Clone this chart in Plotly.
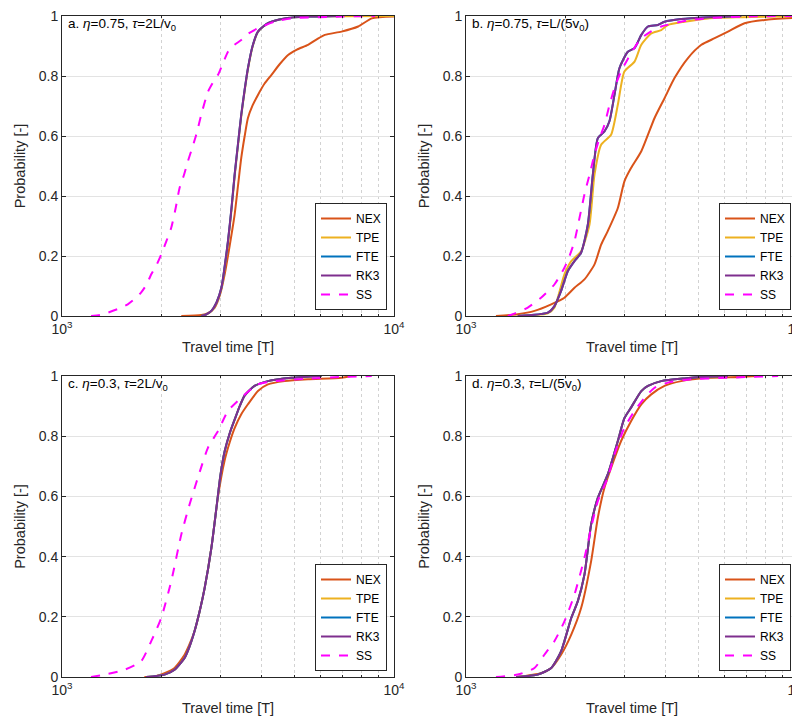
import plotly.graph_objects as go

# ---------------- data ----------------
# Panel a: eta=0.75, tau=2L/v0
SS_a_x = [1223, 1300, 1374, 1478, 1578, 1660, 1730, 1800, 1857, 1930, 1990, 2060, 2133, 2200, 2260, 2330, 2395, 2470, 2537, 2640, 2753, 2850, 2951, 3060, 3162, 3300, 3467, 3650, 3892, 4375, 4911, 6950, 8770]
SS_a_y = [0, 0.003, 0.011, 0.024, 0.039, 0.058, 0.078, 0.106, 0.139, 0.172, 0.205, 0.248, 0.294, 0.36, 0.427, 0.47, 0.516, 0.562, 0.604, 0.68, 0.748, 0.779, 0.804, 0.845, 0.881, 0.903, 0.92, 0.942, 0.959, 0.981, 0.992, 0.998, 1.0]
NEX_a_x = [2287, 2630, 2760, 2884, 2990, 3090, 3200, 3311, 3390, 3467, 3550, 3631, 3750, 3892, 4076, 4276, 4530, 4797, 5100, 5508, 5850, 6190, 6950, 7800, 8570, 10000]
NEX_a_y = [0, 0.003, 0.01, 0.028, 0.07, 0.139, 0.235, 0.338, 0.435, 0.527, 0.6, 0.66, 0.702, 0.737, 0.775, 0.804, 0.84, 0.87, 0.888, 0.904, 0.922, 0.937, 0.948, 0.965, 0.992, 0.998]
RK3_a_x = [2630, 2730, 2818, 2920, 3020, 3090, 3162, 3240, 3311, 3390, 3467, 3550, 3631, 3750, 3892, 4170, 4688, 5508, 6950]
RK3_a_y = [0, 0.006, 0.017, 0.045, 0.094, 0.165, 0.25, 0.36, 0.471, 0.575, 0.671, 0.755, 0.826, 0.9, 0.948, 0.976, 0.992, 0.998, 1.0]
TPE_a_x = [2630, 2735, 2825, 2925, 3025, 3095, 3167, 3245, 3316, 3395, 3472, 3555, 3636, 3755, 3897, 4175, 4693, 5513, 6955, 10000]
TPE_a_y = [0, 0.006, 0.017, 0.045, 0.094, 0.165, 0.25, 0.36, 0.471, 0.575, 0.671, 0.755, 0.826, 0.9, 0.948, 0.976, 0.992, 0.998, 0.999, 1.0]
FTE_a_x = RK3_a_x
FTE_a_y = RK3_a_y

# Panel b: eta=0.75, tau=L/(5v0)
SS_b_x = [1336, 1399, 1535, 1683, 1846, 1979, 2050, 2122, 2200, 2274, 2360, 2438, 2520, 2612, 2700, 2800, 2930, 3072, 3220, 3373, 3600, 3873, 4767, 6745, 10000]
SS_b_y = [0, 0.008, 0.028, 0.061, 0.105, 0.161, 0.2, 0.249, 0.33, 0.405, 0.475, 0.538, 0.59, 0.637, 0.7, 0.759, 0.815, 0.857, 0.895, 0.926, 0.948, 0.965, 0.987, 0.998, 1.0]
NEX_b_x = [1231, 1432, 1608, 1806, 1979, 2122, 2274, 2438, 2553, 2673, 2866, 3000, 3141, 3373, 3698, 3963, 4246, 4656, 5117, 5610, 6152, 6902, 7943, 10000]
NEX_b_y = [0, 0.006, 0.017, 0.039, 0.061, 0.094, 0.122, 0.172, 0.238, 0.283, 0.36, 0.449, 0.493, 0.549, 0.66, 0.726, 0.793, 0.859, 0.904, 0.926, 0.948, 0.976, 0.987, 0.994]
RK3_b_x = [1432, 1763, 1846, 1933, 2027, 2122, 2222, 2328, 2410, 2495, 2612, 2704, 2800, 2898, 3072, 3219, 3373, 3532, 3784, 3963, 4446, 5354, 6745]
RK3_b_y = [0, 0.011, 0.033, 0.083, 0.15, 0.183, 0.211, 0.305, 0.471, 0.593, 0.615, 0.649, 0.737, 0.826, 0.881, 0.893, 0.937, 0.965, 0.97, 0.981, 0.99, 0.996, 1.0]
TPE_b_x = [1432, 1763, 1846, 1979, 2075, 2222, 2355, 2438, 2553, 2735, 2866, 3000, 3219, 3373, 3614, 3873, 4055, 4550, 5354, 6745, 10000]
TPE_b_y = [0, 0.009, 0.028, 0.139, 0.183, 0.216, 0.305, 0.471, 0.571, 0.604, 0.704, 0.815, 0.848, 0.904, 0.942, 0.953, 0.97, 0.981, 0.992, 0.996, 1.0]
FTE_b_x = RK3_b_x
FTE_b_y = RK3_b_y

# Panel c: eta=0.3, tau=2L/v0
SS_c_x = [1223, 1374, 1542, 1730, 1857, 1990, 2133, 2287, 2422, 2566, 2753, 2951, 3162, 3467, 3892, 4375, 5508, 6950, 8570]
SS_c_y = [0, 0.01, 0.024, 0.052, 0.119, 0.196, 0.318, 0.473, 0.573, 0.662, 0.762, 0.817, 0.884, 0.928, 0.972, 0.983, 0.991, 0.997, 1.0]
NEX_c_x = [1771, 1900, 2037, 2183, 2340, 2420, 2507, 2600, 2690, 2818, 2951, 3090, 3200, 3311, 3467, 3631, 3892, 4170, 4688, 5508, 6950, 7400]
NEX_c_y = [0, 0.002, 0.013, 0.03, 0.074, 0.108, 0.152, 0.22, 0.296, 0.429, 0.6, 0.72, 0.78, 0.827, 0.873, 0.906, 0.95, 0.972, 0.983, 0.989, 0.994, 1.0]
RK3_c_x = [1792, 2037, 2183, 2340, 2420, 2507, 2600, 2690, 2818, 2917, 3000, 3090, 3200, 3311, 3430, 3548, 3802, 4170, 4911, 6050]
RK3_c_y = [0, 0.008, 0.024, 0.063, 0.1, 0.152, 0.22, 0.296, 0.429, 0.56, 0.67, 0.75, 0.81, 0.855, 0.9, 0.935, 0.967, 0.983, 0.994, 1.0]
TPE_c_x = RK3_c_x
TPE_c_y = RK3_c_y
FTE_c_x = RK3_c_x
FTE_c_y = RK3_c_y

# Panel d: eta=0.3, tau=L/(5v0)
SS_d_x = [1231, 1432, 1608, 1722, 1846, 1979, 2122, 2274, 2382, 2495, 2673, 2800, 3000, 3219, 3451, 3698, 4055, 4767, 6010, 8710]
SS_d_y = [0, 0.008, 0.03, 0.074, 0.119, 0.185, 0.274, 0.396, 0.496, 0.584, 0.662, 0.739, 0.828, 0.884, 0.928, 0.961, 0.978, 0.989, 0.994, 1.0]
NEX_d_x = [1415, 1683, 1806, 1933, 2075, 2222, 2382, 2495, 2612, 2735, 2932, 3141, 3373, 3614, 3963, 4446, 5354, 6745, 7580]
NEX_d_y = [0, 0.013, 0.03, 0.074, 0.141, 0.229, 0.385, 0.529, 0.629, 0.695, 0.784, 0.85, 0.906, 0.939, 0.967, 0.983, 0.994, 0.997, 1.0]
RK3_d_x = [1415, 1644, 1806, 1933, 2075, 2172, 2274, 2382, 2495, 2673, 2866, 3000, 3141, 3373, 3532, 3873, 4550, 5354, 6150]
RK3_d_y = [0, 0.008, 0.03, 0.085, 0.196, 0.252, 0.34, 0.507, 0.595, 0.673, 0.784, 0.86, 0.895, 0.95, 0.967, 0.983, 0.992, 0.998, 1.0]
TPE_d_x = RK3_d_x
TPE_d_y = RK3_d_y
FTE_d_x = RK3_d_x
FTE_d_y = RK3_d_y

panel_titles = [
    "a. <i>η</i>=0.75, <i>τ</i>=2L/v<sub>0</sub>",
    "b. <i>η</i>=0.75, <i>τ</i>=L/(5v<sub>0</sub>)",
    "c. <i>η</i>=0.3, <i>τ</i>=2L/v<sub>0</sub>",
    "d. <i>η</i>=0.3, <i>τ</i>=L/(5v<sub>0</sub>)",
]
series_names = ["NEX", "TPE", "FTE", "RK3", "SS"]
series_colors = ["#D95319", "#EDB120", "#0072BD", "#7E2F8E", "#FF00FF"]
x_major_ticks = [1000, 10000]
x_major_text = ["10<sup>3</sup>", "10<sup>4</sup>"]
x_minor_ticks = [2000, 3000, 4000, 5000, 6000, 7000, 8000, 9000]
y_ticks = [0, 0.2, 0.4, 0.6, 0.8, 1.0]
y_text = ["0", "0.2", "0.4", "0.6", "0.8", "1"]

panels = [
    [(NEX_a_x, NEX_a_y), (TPE_a_x, TPE_a_y), (FTE_a_x, FTE_a_y), (RK3_a_x, RK3_a_y), (SS_a_x, SS_a_y)],
    [(NEX_b_x, NEX_b_y), (TPE_b_x, TPE_b_y), (FTE_b_x, FTE_b_y), (RK3_b_x, RK3_b_y), (SS_b_x, SS_b_y)],
    [(NEX_c_x, NEX_c_y), (TPE_c_x, TPE_c_y), (FTE_c_x, FTE_c_y), (RK3_c_x, RK3_c_y), (SS_c_x, SS_c_y)],
    [(NEX_d_x, NEX_d_y), (TPE_d_x, TPE_d_y), (FTE_d_x, FTE_d_y), (RK3_d_x, RK3_d_y), (SS_d_x, SS_d_y)],
]

# ---------------- layout ----------------
W, H = 800, 722
FONT = "Liberation Sans, Arial, Helvetica, sans-serif"
AX = "#262626"
# pixel boxes of plot areas: (left, right, top, bottom)
boxes = [(54, 386, 8, 308), (458, 790, 8, 308), (54, 386, 368, 669), (458, 790, 368, 669)]

fig = go.Figure()
layout = dict(
    width=W, height=H, margin=dict(l=0, r=0, t=0, b=0, autoexpand=False),
    paper_bgcolor="white", plot_bgcolor="white",
    font=dict(family=FONT, size=13, color=AX),
    annotations=[],
)

for i, (series, box) in enumerate(zip(panels, boxes)):
    n = i + 1
    xa = "x" if n == 1 else f"x{n}"
    ya = "y" if n == 1 else f"y{n}"
    lg = "legend" if n == 1 else f"legend{n}"
    for (xs, ys), name, col in zip(series, series_names, series_colors):
        fig.add_trace(go.Scatter(
            x=xs, y=ys, mode="lines", name=name, xaxis=xa, yaxis=ya, legend=lg,
            line=dict(color=col, width=2, dash="dash" if name == "SS" else "solid",
                      shape="spline", smoothing=0.6),
        ))
    l, r, t, b = box
    xkey = "xaxis" if n == 1 else f"xaxis{n}"
    ykey = "yaxis" if n == 1 else f"yaxis{n}"
    layout[xkey] = dict(
        type="log", range=[3, 4], domain=[l / W, r / W], anchor=ya, automargin=False,
        ticklabeloverflow="allow",
        tickvals=x_major_ticks, ticktext=x_major_text, ticks="inside", ticklen=4,
        tickcolor=AX, showline=True, linecolor=AX, linewidth=1, mirror="ticks",
        showgrid=False, zeroline=False,
        minor=dict(tickvals=x_minor_ticks, ticks="inside", ticklen=2, tickcolor=AX,
                   showgrid=True, gridcolor="#d2d2d2", griddash="dot", gridwidth=1),
        title=dict(text="Travel time [T]", font=dict(size=14.5, color=AX), standoff=6),
        tickfont=dict(size=14, color=AX),
    )
    layout[ykey] = dict(
        range=[0, 1], domain=[1 - b / H, 1 - t / H], anchor=xa, automargin=False,
        ticklabeloverflow="allow",
        tickvals=y_ticks, ticktext=y_text, ticks="inside", ticklen=4, tickcolor=AX,
        showline=True, linecolor=AX, linewidth=1, mirror="ticks",
        showgrid=True, gridcolor="#e3e3e3", gridwidth=1, zeroline=False,
        title=dict(text="Probability [-]", font=dict(size=14.5, color=AX), standoff=9),
        tickfont=dict(size=14, color=AX),
    )
    layout[lg] = dict(
        x=(r - 7) / W, y=1 - (b - 6) / H, xanchor="right", yanchor="bottom",
        xref="paper", yref="paper",
        bgcolor="white", bordercolor=AX, borderwidth=1,
        font=dict(size=12, color="black"), tracegroupgap=0, itemwidth=30,
    )
    layout["annotations"].append(dict(
        text=panel_titles[i], xref="paper", yref="paper",
        x=(l + 4) / W, y=1 - (t - 2) / H, xanchor="left", yanchor="top",
        showarrow=False, font=dict(size=13.5, color="black"),
    ))

fig.update_layout(**layout)
fig.write_html("out.html")
